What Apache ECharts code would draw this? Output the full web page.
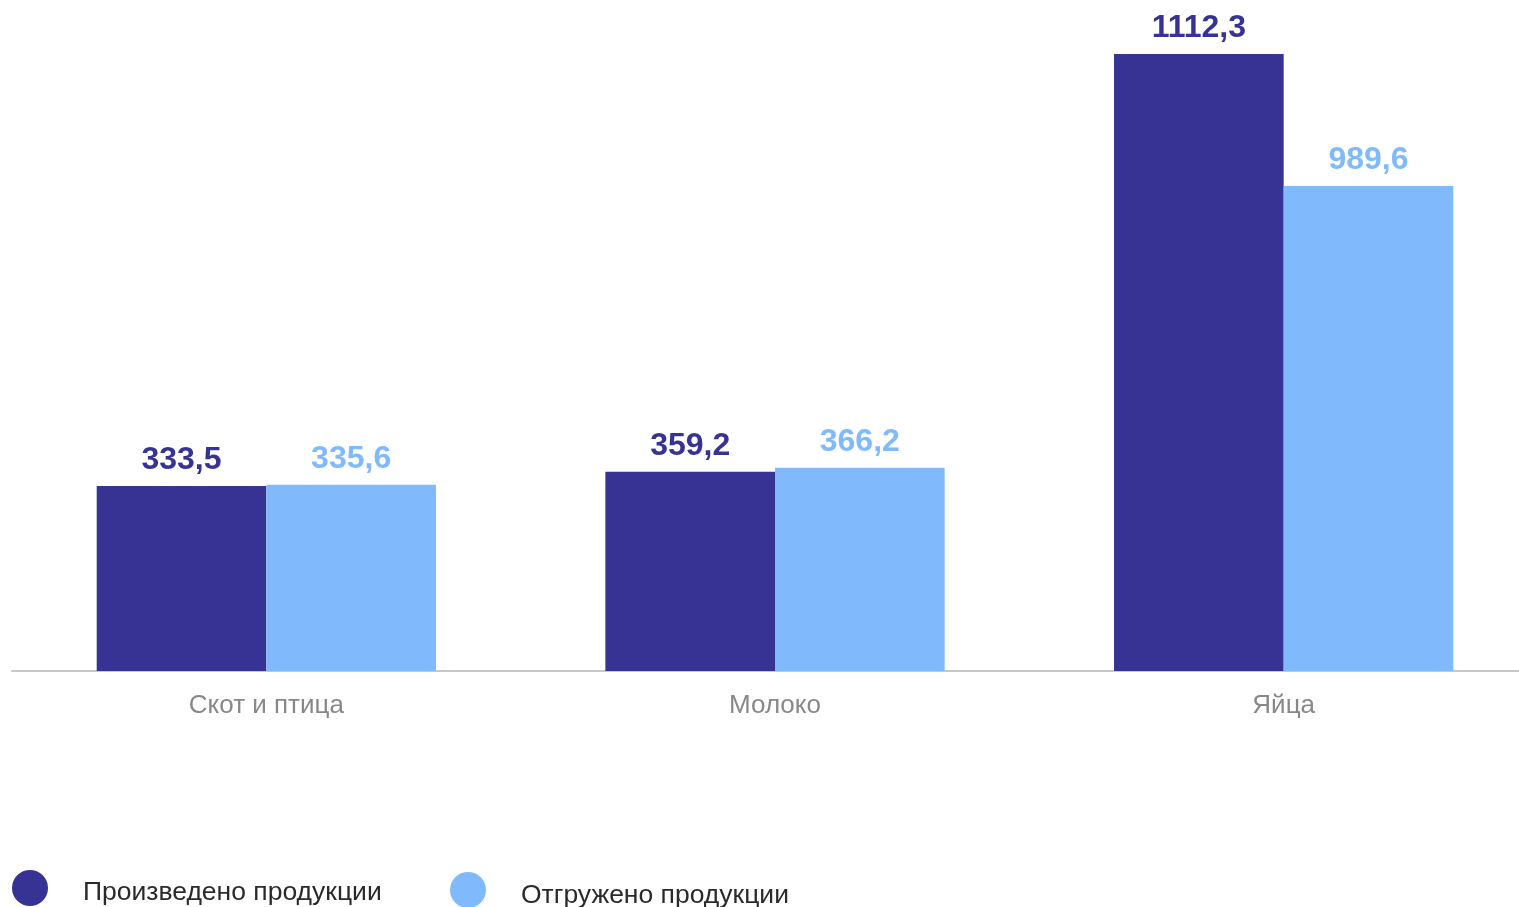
<!DOCTYPE html>
<html>
<head>
<meta charset="utf-8">
<script src="https://cdn.jsdelivr.net/npm/echarts@6/dist/echarts.min.js"></script>
<style>
html,body{margin:0;padding:0;background:#fff;overflow:hidden;}
#chart{width:1519px;height:907px;}
</style>
</head>
<body>
<div id="chart"></div>
<script>
const categories = ['Скот и птица', 'Молоко', 'Яйца'];
const seriesNames = ['Произведено продукции', 'Отгружено продукции'];
// bar heights as drawn in the picture
const producedValues = [333.5, 359.2, 1112.3];
const shippedValues = [335.6, 366.2, 874.3];
// value labels as printed in the picture
const producedLabels = ['333,5', '359,2', '1112,3'];
const shippedLabels = ['335,6', '366,2', '989,6'];

const darkColor = '#373395';
const lightColor = '#80BAFC';
const font = '"Liberation Sans", Arial, sans-serif';

function legendText(padTop) {
  return {
    fontFamily: font, fontSize: 26.5, color: '#2a2a2a',
    rich: {t: {fontFamily: font, fontSize: 26.5, color: '#2a2a2a', padding: [padTop, 0, 0, 30]}}
  };
}

const chart = echarts.init(document.getElementById('chart'), null, {renderer: 'canvas'});
chart.setOption({
  animation: false,
  backgroundColor: '#ffffff',
  grid: {left: 12, right: -19, top: 54, bottom: 236, containLabel: false, outerBoundsMode: 'none'},
  legend: [
    {left: 12, top: 870, padding: 0, icon: 'circle', itemWidth: 36, itemHeight: 36,
     data: [seriesNames[0]], formatter: '{t|{name}}', textStyle: legendText(10)},
    {left: 450, top: 872, padding: 0, icon: 'circle', itemWidth: 36, itemHeight: 36,
     data: [seriesNames[1]], formatter: '{t|{name}}', textStyle: legendText(12)}
  ],
  xAxis: {
    type: 'category', data: categories,
    axisLine: {lineStyle: {color: '#c8c8c8', width: 2}},
    axisTick: {show: false},
    axisLabel: {fontFamily: font, fontSize: 26, color: '#888', margin: 22}
  },
  yAxis: {
    type: 'value', min: 0, max: 'dataMax',
    show: false, splitLine: {show: false}
  },
  series: [
    {
      name: seriesNames[0], type: 'bar', data: producedValues,
      barGap: '0%', barCategoryGap: '33.3%',
      itemStyle: {color: darkColor},
      label: {show: true, position: 'top', distance: 10, fontFamily: font, fontSize: 32, fontWeight: 'bold', color: darkColor,
        formatter: p => producedLabels[p.dataIndex]}
    },
    {
      name: seriesNames[1], type: 'bar', data: shippedValues,
      barGap: '0%', barCategoryGap: '33.3%',
      itemStyle: {color: lightColor},
      label: {show: true, position: 'top', distance: 10, fontFamily: font, fontSize: 32, fontWeight: 'bold', color: lightColor,
        formatter: p => shippedLabels[p.dataIndex]}
    }
  ]
});
</script>
</body>
</html>
